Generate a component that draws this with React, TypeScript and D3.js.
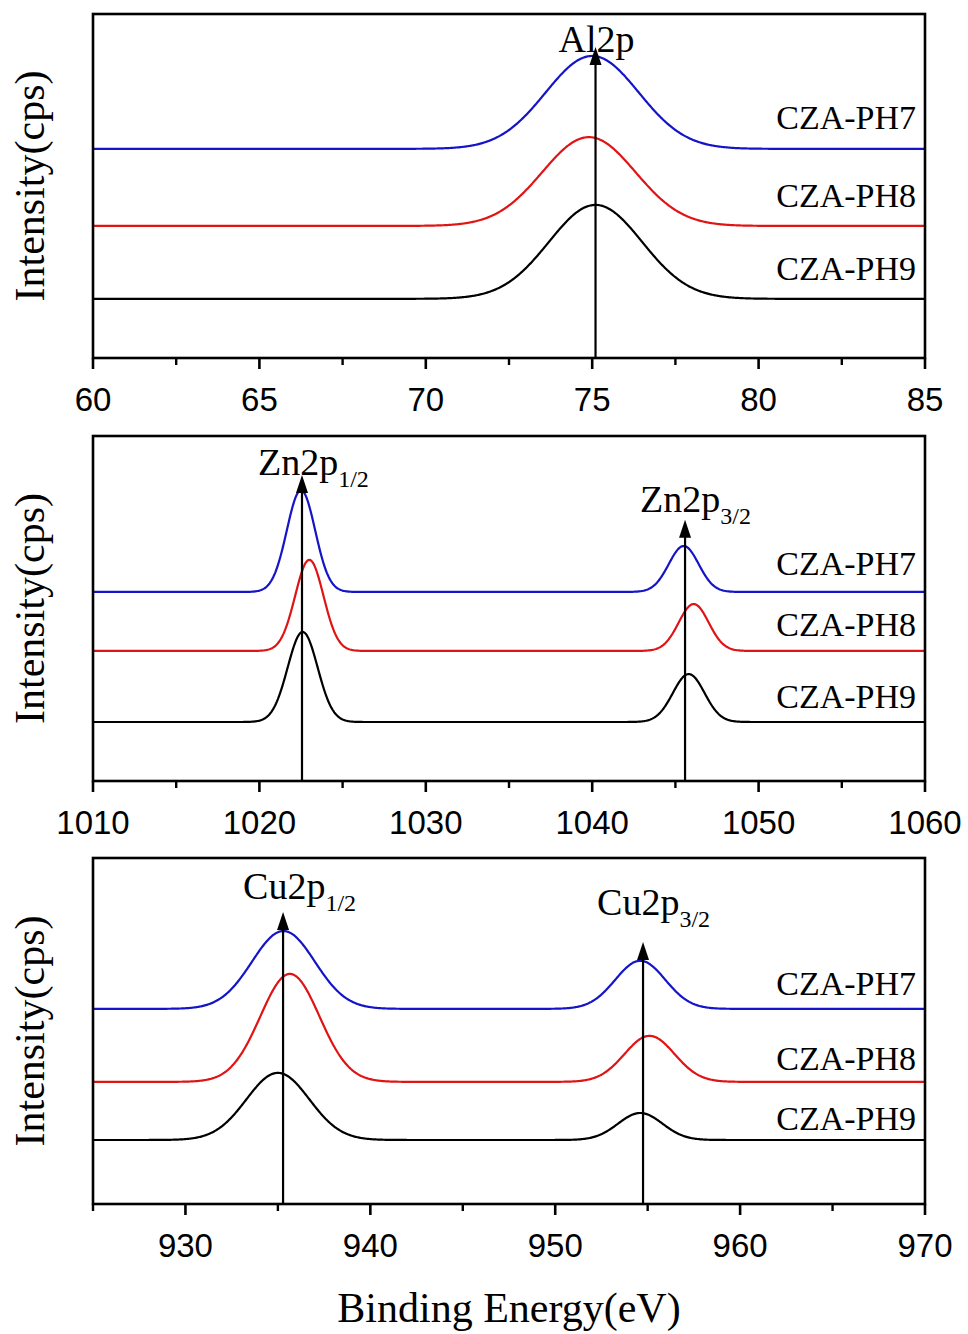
import React from 'react';
import * as d3 from 'd3';

// ---- data ----
const seriesNames = ['CZA-PH7', 'CZA-PH8', 'CZA-PH9'];
const seriesColors = ['#1414c8', '#e01414', '#000000'];

// Panel 1: Al2p
const alDomain = [60, 85];
const alMajorTicks = [60, 65, 70, 75, 80, 85];
const alMinorTicks = [62.5, 67.5, 72.5, 77.5, 82.5];
const alBaselines = [60.8, 38.4, 17.2];
const alPeakCenters = [[75.0], [74.9], [75.1]];
const alPeakHeights = [[27.0], [25.8], [27.3]];
const alPeakSigmas = [[1.4], [1.4], [1.4]];
const alArrowX = [75.1];
const alArrowTip = [90.4];
const alPeakLabels = ['Al2p'];
const alPeakSubs = [''];
const alSeriesLabelY = [66.5, 43.8, 22.6];

// Panel 2: Zn2p
const znDomain = [1010, 1060];
const znMajorTicks = [1010, 1020, 1030, 1040, 1050, 1060];
const znMinorTicks = [1015, 1025, 1035, 1045, 1055];
const znBaselines = [54.8, 37.7, 17.1];
const znPeakCenters = [[1022.5, 1045.5], [1023.0, 1046.1], [1022.6, 1045.8]];
const znPeakHeights = [[29.5, 13.3], [26.4, 13.6], [26.1, 13.9]];
const znPeakSigmas = [[0.85, 0.9], [0.85, 0.9], [0.9, 0.95]];
const znArrowX = [1022.56, 1045.58];
const znArrowTip = [88.7, 75.7];
const znPeakLabels = ['Zn2p', 'Zn2p'];
const znPeakSubs = ['1/2', '3/2'];
const znSeriesLabelY = [59.7, 42.0, 21.2];

// Panel 3: Cu2p
const cuDomain = [925, 970];
const cuMajorTicks = [930, 940, 950, 960, 970];
const cuMinorTicks = [925, 935, 945, 955, 965];
const cuBaselines = [56.4, 35.3, 18.5];
const cuPeakCenters = [[935.3, 954.6], [935.65, 955.1], [935.0, 954.6]];
const cuPeakHeights = [[22.5, 13.9], [31.2, 13.3], [19.4, 7.8]];
const cuPeakSigmas = [[1.7, 1.35], [1.6, 1.35], [1.7, 1.2]];
const cuArrowX = [935.28, 954.75];
const cuArrowTip = [84.4, 75.7];
const cuPeakLabels = ['Cu2p', 'Cu2p'];
const cuPeakSubs = ['1/2', '3/2'];
const cuSeriesLabelY = [60.4, 38.7, 21.4];

const panels = [
  {
    domain: alDomain, major: alMajorTicks, minor: alMinorTicks, baselines: alBaselines,
    centers: alPeakCenters, heights: alPeakHeights, sigmas: alPeakSigmas,
    arrowX: alArrowX, arrowTip: alArrowTip, labels: alPeakLabels, subs: alPeakSubs,
    seriesY: alSeriesLabelY, top: 14, bottom: 358,
    labelOffsets: [[-37, 5]],
  },
  {
    domain: znDomain, major: znMajorTicks, minor: znMinorTicks, baselines: znBaselines,
    centers: znPeakCenters, heights: znPeakHeights, sigmas: znPeakSigmas,
    arrowX: znArrowX, arrowTip: znArrowTip, labels: znPeakLabels, subs: znPeakSubs,
    seriesY: znSeriesLabelY, top: 436, bottom: 781,
    labelOffsets: [[-44, 0], [-45, -8]],
  },
  {
    domain: cuDomain, major: cuMajorTicks, minor: cuMinorTicks, baselines: cuBaselines,
    centers: cuPeakCenters, heights: cuPeakHeights, sigmas: cuPeakSigmas,
    arrowX: cuArrowX, arrowTip: cuArrowTip, labels: cuPeakLabels, subs: cuPeakSubs,
    seriesY: cuSeriesLabelY, top: 858, bottom: 1204,
    labelOffsets: [[-40, -13], [-46, -27]],
  },
];

const LEFT = 93;
const RIGHT = 925;
const serif = '"Liberation Serif", "Times New Roman", serif';
const sans = '"Liberation Sans", Arial, sans-serif';

function Panel({ p }: { p: any }) {
  const x = d3.scaleLinear().domain(p.domain).range([LEFT, RIGHT]);
  const y = d3.scaleLinear().domain([0, 100]).range([p.bottom, p.top]);
  const n = 900;
  const xs = d3.range(n + 1).map((i) => p.domain[0] + ((p.domain[1] - p.domain[0]) * i) / n);
  const line = d3
    .line<[number, number]>()
    .x((d) => x(d[0]))
    .y((d) => y(d[1]));
  const curves = seriesNames.map((_, s) => {
    const pts: [number, number][] = xs.map((xv) => {
      let v = p.baselines[s];
      p.centers[s].forEach((c: number, k: number) => {
        const sg = p.sigmas[s][k];
        v += p.heights[s][k] * Math.exp(-((xv - c) * (xv - c)) / (2 * sg * sg));
      });
      return [xv, v];
    });
    return line(pts) || '';
  });
  const midY = (p.top + p.bottom) / 2;
  return (
    <g>
      {curves.map((d, s) => (
        <path key={s} d={d} fill="none" stroke={seriesColors[s]} strokeWidth={2.2} />
      ))}
      {p.arrowX.map((ax: number, k: number) => {
        const px = x(ax);
        const ty = y(p.arrowTip[k]);
        return (
          <g key={k}>
            <line x1={px} x2={px} y1={p.bottom} y2={ty + 8} stroke="#000" strokeWidth={2.2} />
            <path d={`M${px},${ty} L${px - 6},${ty + 18} L${px + 6},${ty + 18} Z`} fill="#000" />
            <text
              x={px + p.labelOffsets[k][0]}
              y={ty + p.labelOffsets[k][1]}
              fontFamily={serif}
              fontSize={38}
              fill="#000"
            >
              {p.labels[k]}
              {p.subs[k] ? (
                <tspan fontSize={24} dy={12}>
                  {p.subs[k]}
                </tspan>
              ) : null}
            </text>
          </g>
        );
      })}
      {seriesNames.map((name, s) => (
        <text
          key={name}
          x={916}
          y={y(p.seriesY[s])}
          textAnchor="end"
          fontFamily={serif}
          fontSize={34}
          fill="#000"
        >
          {name}
        </text>
      ))}
      <rect
        x={LEFT}
        y={p.top}
        width={RIGHT - LEFT}
        height={p.bottom - p.top}
        fill="none"
        stroke="#000"
        strokeWidth={2.6}
      />
      {p.major.map((t: number) => (
        <g key={'M' + t}>
          <line x1={x(t)} x2={x(t)} y1={p.bottom} y2={p.bottom + 11} stroke="#000" strokeWidth={2.6} />
          <text
            x={x(t)}
            y={p.bottom + 53}
            textAnchor="middle"
            fontFamily={sans}
            fontSize={33}
            fill="#000"
          >
            {t}
          </text>
        </g>
      ))}
      {p.minor.map((t: number) => (
        <line key={'m' + t} x1={x(t)} x2={x(t)} y1={p.bottom} y2={p.bottom + 7} stroke="#000" strokeWidth={2.4} />
      ))}
      <text
        transform={`translate(44,${midY}) rotate(-90)`}
        textAnchor="middle"
        fontFamily={serif}
        fontSize={42}
        fill="#000"
      >
        Intensity(cps)
      </text>
    </g>
  );
}

export default function App() {
  return (
    <svg
      width={968}
      height={1334}
      style={{ position: 'absolute', left: 0, top: 0, background: '#fff' }}
    >
      <rect x={0} y={0} width={968} height={1334} fill="#fff" />
      {panels.map((p, i) => (
        <Panel key={i} p={p} />
      ))}
      <text x={509} y={1322} textAnchor="middle" fontFamily={serif} fontSize={42} fill="#000">
        Binding Energy(eV)
      </text>
    </svg>
  );
}
